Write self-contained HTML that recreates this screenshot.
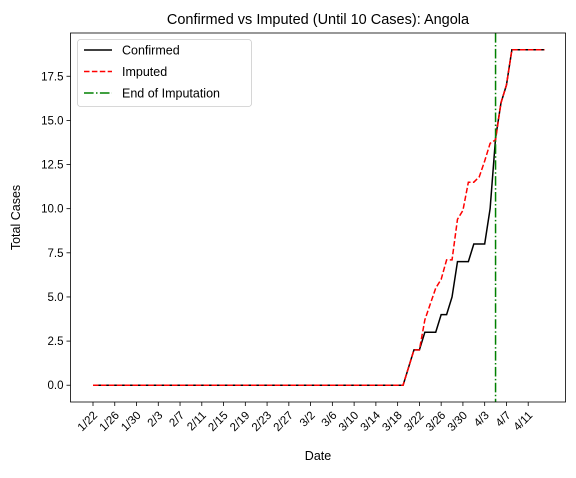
<!DOCTYPE html>
<html><head><meta charset="utf-8"><style>
body{margin:0;background:#fff;}
svg text{font-family:"Liberation Sans","DejaVu Sans",sans-serif;}
</style></head><body>
<svg id="chart" width="576" height="473" xmlns="http://www.w3.org/2000/svg"></svg>
<script>
const confirmed = [0,0,0,0,0,0,0,0,0,0,0,0,0,0,0,0,0,0,0,0,0,0,0,0,0,0,0,0,0,0,0,0,0,0,0,0,0,0,0,0,0,0,0,0,0,0,0,0,0,0,0,0,0,0,0,0,0,0,1,2,2,3,3,3,4,4,5,7,7,7,8,8,8,10,14,16,17,19,19,19,19,19,19,19];
const imputed = [0,0,0,0,0,0,0,0,0,0,0,0,0,0,0,0,0,0,0,0,0,0,0,0,0,0,0,0,0,0,0,0,0,0,0,0,0,0,0,0,0,0,0,0,0,0,0,0,0,0,0,0,0,0,0,0,0,0,1,2,2,3.7,4.6,5.5,6.0,7.1,7.1,9.4,9.9,11.5,11.5,11.8,12.7,13.7,13.9,16,17,19,19,19,19,19,19,19];
const xTickLabels = ["1/22","1/26","1/30","2/3","2/7","2/11","2/15","2/19","2/23","2/27","3/2","3/6","3/10","3/14","3/18","3/22","3/26","3/30","4/3","4/7","4/11"];
const yTicks = [0,2.5,5,7.5,10,12.5,15,17.5];
const imputationEnd = 74;

const svg = document.getElementById('chart');
const NS = 'http://www.w3.org/2000/svg';
const L=70.5,R=565.5,T=33,B=402;
const X = d => 93 + d*5.44;
const ymax=19.95, ymin=-0.95;
const Y = v => B - (v-ymin)/(ymax-ymin)*(B-T);
function mk(tag, attrs, parent){const e=document.createElementNS(NS,tag);for(const k in attrs)e.setAttribute(k,attrs[k]);(parent||svg).appendChild(e);return e;}

const title = mk('text',{x:(L+R)/2,y:24,'text-anchor':'middle','font-size':14.5});
title.textContent='Confirmed vs Imputed (Until 10 Cases): Angola';



xTickLabels.forEach((lab,i)=>{
  const x=X(i*4);
  const t=mk('line',{x1:x,x2:x,y1:B,y2:B+4,stroke:'#000','stroke-width':0.8});
  
  
  const tx=mk('text',{x:0,y:0,'text-anchor':'end','font-size':11.5,transform:`translate(${x+5},${B+14}) rotate(-45)`});
  tx.textContent=lab;
  
  
});
yTicks.forEach(v=>{
  const y=Y(v);
  const t=mk('line',{x1:L-4,x2:L,y1:y,y2:y,stroke:'#000','stroke-width':0.8});
  
  
  const tx=mk('text',{x:L-7,y:y+4,'text-anchor':'end','font-size':11.5});
  tx.textContent=v.toFixed(1);
  
  
});
const xl=mk('text',{x:(L+R)/2,y:460,'text-anchor':'middle','font-size':12.5});xl.textContent='Date';


const yl=mk('text',{x:0,y:0,'text-anchor':'middle','font-size':12.5,transform:`translate(20,${(T+B)/2}) rotate(-90)`});yl.textContent='Total Cases';



const pts=a=>a.map((v,i)=>X(i).toFixed(2)+','+Y(v).toFixed(2)).join(' ');
const lc=mk('polyline',{points:pts(confirmed),fill:'none',stroke:'#000','stroke-width':1.5});


const li=mk('polyline',{points:pts(imputed),fill:'none',stroke:'#ff0000','stroke-width':1.5,'stroke-dasharray':'5.5,2.4'});


const ve=mk('line',{x1:X(imputationEnd),x2:X(imputationEnd),y1:T,y2:B,stroke:'#008000','stroke-width':1.5,'stroke-dasharray':'9.6,2.4,1.5,2.4'});



const frame=mk('rect',{x:L,y:T,width:R-L,height:B-T,fill:'none',stroke:'#000','stroke-width':0.8});



const lg=mk('g',{});


mk('rect',{x:77.5,y:39.5,width:174,height:67,rx:3,fill:'#fff',stroke:'#ccc','stroke-width':0.8},lg);
const items=[['Confirmed','#000',''],['Imputed','#ff0000','5.5,2.4'],['End of Imputation','#008000','9.6,2.4,1.5,2.4']];
items.forEach((it,i)=>{
  const y=50+i*21.5;
  const g=mk('g',{},lg);
  
  
  const a={x1:84,x2:112,y1:y,y2:y,stroke:it[1],'stroke-width':1.5};
  if(it[2])a['stroke-dasharray']=it[2];
  mk('line',a,g);
  const t=mk('text',{x:122,y:y+4.5,'font-size':12.5},g);t.textContent=it[0];
});
</script>
</body></html>
